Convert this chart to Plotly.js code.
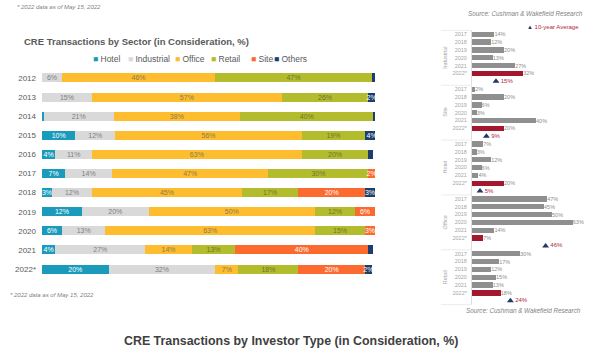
<!DOCTYPE html>
<html><head><meta charset="utf-8">
<script src="https://cdn.plot.ly/plotly-3.0.1.min.js"></script>
<style>html,body{margin:0;padding:0;background:#fff}#chart{width:590px;height:350px}</style>
</head><body><div id="chart"></div>
<script>
// ---------- data ----------
const years = ['2012','2013','2014','2015','2016','2017','2018','2019','2020','2021','2022*'];
const sectors = ['Hotel','Industrial','Office','Retail','Site','Others'];
const hotel      = [0, 0, 0.5, 10, 4, 7, 3, 12, 6, 4, 20];
const industrial = [6, 15, 21, 12, 11, 14, 12, 20, 13, 27, 32];
const office     = [46, 57, 38, 56, 63, 47, 45, 50, 63, 14, 7];
const retail     = [47, 26, 40, 19, 20, 30, 17, 12, 15, 13, 18];
const site       = [0, 0, 0, 0, 0, 2, 20, 6, 3, 40, 20];
const others     = [1, 2, 0.5, 4, 1.5, 0.5, 3, 0, 0, 1.5, 2];
const rightGroups = ['Industrial','Site','Hotel','Office','Retail'];
const tenYearAvg  = [15, 9, 5, 46, 24];
const recentStart = 5; // 2017 onward
const chartTitle = 'CRE Transactions by Sector (in Consideration, %)';
const bottomTitle = 'CRE Transactions by Investor Type (in Consideration, %)';
const footnote = '* 2022 data as of May 15, 2022';
const sourceText = 'Source: Cushman & Wakefield Research';
const avgLegend = '10-year Average';

// ---------- styles ----------
const seriesVals = {Hotel: hotel, Industrial: industrial, Office: office, Retail: retail, Site: site, Others: others};
const colors = {Hotel:'#1a9bbb', Industrial:'#d9d9d9', Office:'#fdbd2e', Retail:'#b2bc2c', Site:'#fd6a2f', Others:'#1b3e6c'};
const txtColors = {Hotel:'#ffffff', Industrial:'#7f7f7f', Office:'#8c7a4c', Retail:'#6e7530', Site:'#ffffff', Others:'#ffffff'};
const W = 590, H = 350;
const px = v => v / W, py = v => 1 - v / H;

const traces = [];
sectors.forEach(name => {
  const vals = seriesVals[name];
  traces.push({
    type:'bar', orientation:'h', name, y: years, x: vals, xaxis:'x', yaxis:'y',
    marker:{color: colors[name], line:{width:0}}, width:0.47,
    text: vals.map(v => v >= 2 ? v + '%' : ''),
    textposition:'inside', insidetextanchor:'middle', textangle:0, constraintext:'none',
    textfont:{size:7, color: txtColors[name], family:'Liberation Sans, Arial, sans-serif'},
    hoverinfo:'skip', showlegend:false
  });
});

const recentYears = years.slice(recentStart);
const rowCats = recentYears.concat(['avg']);
const layout = {
  width: W, height: H, margin:{l:0,r:0,t:0,b:0},
  paper_bgcolor:'#ffffff', plot_bgcolor:'rgba(0,0,0,0)',
  barmode:'stack', showlegend:false,
  font:{family:'Liberation Sans, Arial, sans-serif', color:'#595959'},
  xaxis:{domain:[px(42), px(375)], range:[0,100], visible:false, fixedrange:true},
  yaxis:{domain:[py(278.6), py(68.4)], type:'category', categoryarray: years,
         range:[years.length - 0.5, -0.5], ticks:'', showgrid:false, zeroline:false, showline:false,
         tickfont:{size:8, color:'#595959'}, ticklabelstandoff:5, fixedrange:true},
  xaxis2:{domain:[px(472), px(584)], range:[0,70], visible:false, anchor:'y2', fixedrange:true},
  annotations: [], shapes: []
};

const groupH = 54.85, groupTop0 = 30.4;
rightGroups.forEach((g, i) => {
  const ax = i + 2;
  const top = groupTop0 + i * groupH, bot = top + groupH;
  layout['yaxis' + ax] = {
    domain:[py(bot), py(top)], type:'category', categoryarray: rowCats,
    range:[rowCats.length - 0.5, -0.5], tickvals: recentYears, ticktext: recentYears,
    ticks:'', showgrid:false, zeroline:false, showline:true, linecolor:'#dedede', linewidth:1,
    tickfont:{size:5.5, color:'#a6a6a6'}, ticklabelstandoff:3, anchor:'x2', fixedrange:true
  };
  const vals = seriesVals[g].slice(recentStart);
  traces.push({
    type:'bar', orientation:'h', y: recentYears, x: vals, xaxis:'x2', yaxis:'y' + ax,
    marker:{color: recentYears.map(y => y.indexOf('*') >= 0 ? '#a3182f' : '#8f8f8f')}, width:0.68,
    text: vals.map(v => v + '%'), textposition:'outside', constraintext:'none', cliponaxis:false,
    textfont:{size:5.5, color:'#8c8c8c'}, hoverinfo:'skip', showlegend:false
  });
  traces.push({
    type:'scatter', mode:'markers+text', x:[tenYearAvg[i]], y:['avg'], xaxis:'x2', yaxis:'y' + ax,
    marker:{symbol:'triangle-up', size:6, color:'#1f3864'},
    text:[tenYearAvg[i] + '%'], textposition:'middle right', cliponaxis:false,
    textfont:{size:6, color:'#b0283a'}, hoverinfo:'skip', showlegend:false
  });
  layout.annotations.push({
    xref:'paper', yref:'y' + ax + ' domain', x: px(445), y:0.5, xanchor:'center', yanchor:'middle',
    text: g, textangle:-90, showarrow:false, font:{size:5.5, color:'#a6a6a6'}
  });
  layout.shapes.push({type:'line', xref:'paper', yref:'y' + ax + ' domain', x0:px(441), x1:px(472), y0:1, y1:1,
    line:{color:'#ececec', width:1}});
});
layout.shapes.push({type:'line', xref:'paper', yref:'y6 domain', x0:px(441), x1:px(472), y0:0, y1:0,
  line:{color:'#ececec', width:1}});

// Text annotations
const ann = layout.annotations;
ann.push({xref:'paper', yref:'paper', x:px(15), y:py(7), xanchor:'left', yanchor:'middle', showarrow:false,
  text:'<i>' + footnote + '</i>', font:{size:6, color:'#808080'}});
ann.push({xref:'paper', yref:'paper', x:px(8), y:py(295), xanchor:'left', yanchor:'middle', showarrow:false,
  text:'<i>' + footnote + '</i>', font:{size:6, color:'#808080'}});
ann.push({xref:'paper', yref:'paper', x:px(22), y:py(41.7), xanchor:'left', yanchor:'middle', showarrow:false,
  text:'<b>' + chartTitle + '</b>', font:{size:9.5, color:'#595959'}});
ann.push({xref:'paper', yref:'paper', x:px(291), y:py(341), xanchor:'center', yanchor:'middle', showarrow:false,
  text:'<b>' + bottomTitle + '</b>', font:{size:12.4, color:'#404040'}});
ann.push({xref:'paper', yref:'paper', x:px(585), y:py(13), xanchor:'right', yanchor:'middle', showarrow:false,
  text:'<i>' + sourceText + '</i>', font:{size:6.3, color:'#7f7f7f'}});
ann.push({xref:'paper', yref:'paper', x:px(583), y:py(310), xanchor:'right', yanchor:'middle', showarrow:false,
  text:'<i>' + sourceText + '</i>', font:{size:6.3, color:'#7f7f7f'}});
ann.push({xref:'paper', yref:'paper', x:px(581), y:py(27.5), xanchor:'right', yanchor:'middle', showarrow:false,
  text:'<span style="color:#1f3864">▲</span> ' + avgLegend, font:{size:6, color:'#b0283a'}});
// manual legend
const legendX = [94.3, 128.7, 176, 211.7, 251.7, 275];
sectors.forEach((name, i) => {
  ann.push({xref:'paper', yref:'paper', x:px(legendX[i] - 3), y:py(58.7), xanchor:'left', yanchor:'middle', showarrow:false,
    text:'<span style="color:' + colors[name] + '">■</span> ' + name, font:{size:8.5, color:'#595959'}});
});

Plotly.newPlot('chart', traces, layout, {staticPlot:true, displayModeBar:false});
</script>
</body></html>
